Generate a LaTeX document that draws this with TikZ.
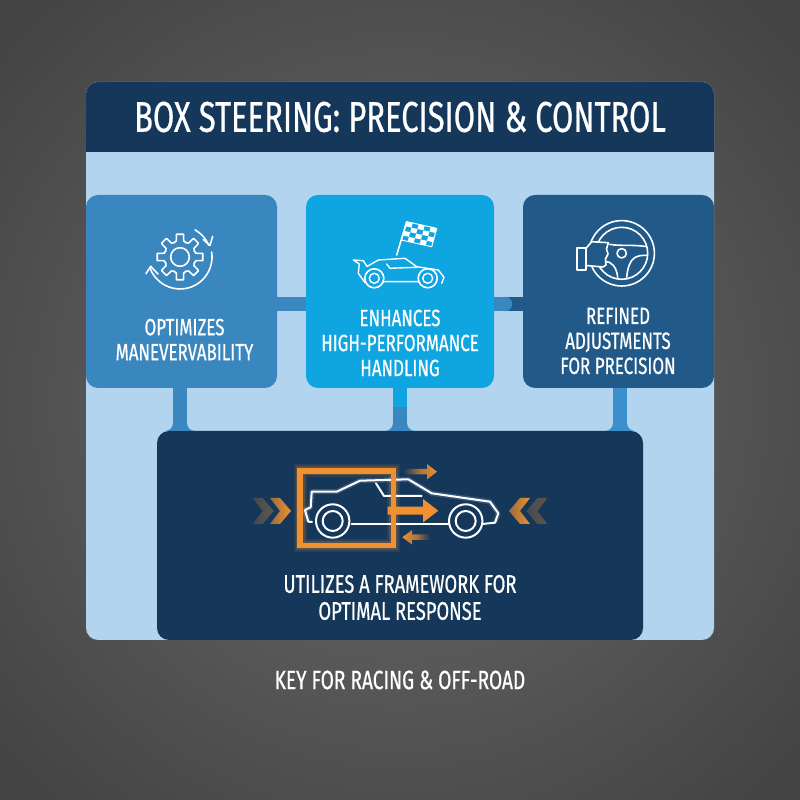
\documentclass[tikz,border=0pt]{standalone}
\usepackage{fontspec}
\setmainfont[FakeStretch=0.72, FakeBold=0.6]{Fira Sans}
\usetikzlibrary{positioning, calc}
\definecolor{GreyIn}{HTML}{6C6C6C}
\definecolor{GreyOut}{HTML}{444444}
\definecolor{PaleSky}{HTML}{B3D4EE}
\definecolor{DeepNavy}{HTML}{14375A}
\definecolor{MidBlue}{HTML}{3A86BF}
\definecolor{BrightBlue}{HTML}{0EA5E0}
\definecolor{SteelBlue}{HTML}{215A89}
\definecolor{LinkBlue}{HTML}{3A8FCC}
\definecolor{RaceOrange}{HTML}{F0902E}
\tikzset{
    cardbox/.style={rounded corners=12pt, minimum height=193pt, inner sep=0pt},
    cardtext/.style={text=white, align=center, font=\fontsize{23.5}{25}\selectfont},
    linkbar/.style={line width=14.5pt},
    iconline/.style={draw=white, line width=1.6pt, line join=round, line cap=round},
    boxline/.style={draw=RaceOrange, line width=5.5pt, line join=miter},
}
\begin{document}
\begin{tikzpicture}[x=1pt, y=1pt]
    \useasboundingbox (0,0) rectangle (800,800);
    \begin{scope}
        \clip (0,0) rectangle (800,800);
        \shade[inner color=GreyIn, outer color=GreyOut] (-130,-130) rectangle (930,930);
    \end{scope}

    \node[fill=PaleSky, rounded corners=12pt, minimum width=628pt, minimum height=558pt,
          inner sep=0pt] (panel) at (400,439) {};
    \fill[DeepNavy] (86,648) [rounded corners=12pt] -- (86,718) -- (714,718)
        [sharp corners] -- (714,648) -- cycle;
    \node[text=white, font=\fontsize{43}{45}\selectfont] (title) at (400,683) {BOX STEERING: PRECISION \& CONTROL};

    \coordinate (optimizeport) at (180,508.5);
    \coordinate (enhanceport) at (400,508.5);
    \coordinate (refineport) at (620,508.5);
    \node[fill=DeepNavy, rounded corners=12pt, minimum width=486pt, minimum height=209pt,
          inner sep=0pt] (frame) at (400,264.5) {};

    \draw[linkbar, MidBlue] ($(optimizeport)+(0,-12.5)$) -- ($(enhanceport)+(0,-12.5)$);
    \draw[linkbar, SteelBlue] ($(refineport)+(0,-12.5)$) -- ($(enhanceport)+(105,-12.5)$) coordinate (midlink);
    \draw[linkbar, MidBlue] (midlink) -- ($(enhanceport)+(0,-12.5)$);
    \draw[linkbar, MidBlue] (optimizeport) -- (optimizeport |- frame.north);
    \draw[linkbar, MidBlue] (enhanceport) -- (enhanceport |- frame.north);
    \draw[linkbar, BrightBlue] (enhanceport) -- (400,393);
    \draw[linkbar, LinkBlue] (refineport) -- (refineport |- frame.north);
    \fill[MidBlue] (midlink) circle (7.2);
    \foreach \px/\pc in {180/MidBlue, 400/MidBlue, 620/LinkBlue} {
        \fill[\pc] (\px+7,369) -- (\px+15,369) arc (270:180:8) -- cycle;
        \fill[\pc] (\px-7,369) -- (\px-15,369) arc (270:360:8) -- cycle;
    }

    \node[cardbox, fill=MidBlue, minimum width=191pt] (optimize) at (181.5,508.5) {};
    \node[cardbox, fill=BrightBlue, minimum width=188pt] (enhance) at (enhanceport) {};
    \node[cardbox, fill=SteelBlue, minimum width=191pt] (refine) at (618.5,508.5) {};

    \node[cardtext] (optimizetext) at (184.5,460.5) {OPTIMIZES\\MANEVERVABILITY};
    \node[cardtext] (enhancetext) at (400,457) {ENHANCES\\HIGH-PERFORMANCE\\HANDLING};
    \node[cardtext] (refinetext) at (618,459) {REFINED\\ADJUSTMENTS\\FOR PRECISION};
    \node[cardtext, font=\fontsize{25.5}{27}\selectfont] (frametext) at (400,202.5) {UTILIZES A FRAMEWORK FOR\\OPTIMAL RESPONSE};
    \node[cardtext, font=\fontsize{26.5}{28}\selectfont] (footer) at (400,120) {KEY FOR RACING \& OFF-ROAD};

    % gear
    \begin{scope}[shift={(180,543)}]
        \foreach \a in {0,45,...,315} {
            \draw[iconline] (\a-22.5:15.5) -- (\a-13:16.5) -- (\a-9:23) -- (\a+9:23) -- (\a+13:16.5) -- (\a+22.5:15.5);
        }
        \draw[iconline] (0,0) circle (9.3);
        \draw[iconline] (9:32) arc (9:-160:32);
        \draw[iconline] (-34,-16.7) -- (-29.3,-9.3) -- (-22,-17);
        \draw[iconline] (61:31) arc (61:22:31);
        \draw[iconline] (23.3,17.3) -- (30,11.7) -- (32.7,20.7);
    \end{scope}

    % race car with flag
    \draw[iconline, line width=1.4pt] (353.3,540) -- (363.3,539.3) -- (367,533.5) -- (378.3,540) -- (405,541.7)
        -- (416.7,533.3) -- (438.3,530) -- (444,522.7) -- (441.7,516.7)
        (420,518.3) -- (381.7,518.3)
        (365,517.3) -- (358.3,526.7) -- (359.3,536) -- (353.3,540);
    \draw[iconline, line width=1.4pt] (386.7,536) -- (390,531.7) -- (416.7,532.7);
    \foreach \cx in {374.3,427.7} {
        \draw[iconline, fill=BrightBlue] (\cx,521.7) circle (9.5);
        \draw[iconline, line width=1.4pt] (\cx,521.7) circle (5);
    }
    \draw[iconline] (396.7,545) -- (406.7,578.3);
    \begin{scope}[cm={6,-1.33,-1.25,-4.6,(406.7,578.3)}]
        \foreach \i in {0,...,4} \foreach \j in {0,...,3} {
            \pgfmathparse{int(mod(\i+\j,2))}
            \ifnum\pgfmathresult=0 \fill[white] (\i,\j) rectangle ++(1,1); \fi
        }
        \draw[iconline, line width=1pt] (0,0) rectangle (5,4);
    \end{scope}

    % wheel with hand
    \begin{scope}[shift={(621.7,546.7)}]
        \draw[iconline] (0,0) circle (32.7);
        \draw[iconline] (0,0) circle (26);
        \draw[iconline] (0,0) circle (4.7);
        \draw[iconline] (-12,9) .. controls (-2,7) and (8,9) .. (25,6.7);
        \draw[iconline] (25,-2) .. controls (15,-2) and (7,-3) .. (5,-24);
        \draw[iconline] (-17,-8) .. controls (-10,-8) and (-5,-14) .. (-4,-24);
    \end{scope}
    \draw[iconline, fill=SteelBlue] (586,551.7) -- (591.7,558.3) -- (608.3,557.3) -- (606.5,551) -- (608,546)
        -- (605.5,541) -- (606,535) -- (603,533) -- (586,534.5) -- cycle;
    \draw[iconline, fill=SteelBlue] (576.7,551.7) rectangle (586,530);

    % big car with sliding box
    \foreach \w/\op in {13/0.12, 9/0.2} {
        \draw[RaceOrange, line width=\w pt, opacity=\op] (300,329) rectangle (393.3,254.3);
    }
    \foreach \w in {5} {
        \draw[white, line width=\w pt, opacity=0.15, line join=round] (308.3,278.3) -- (305,290) -- (310.7,292.7) -- (311.7,308.3) -- (336.7,308.3) -- (360,319.3) -- (408.3,320.7) -- (431.7,306.7) -- (490,298.3) -- (498.3,286.7) -- (495,277.3);
    }
    \draw[iconline, line width=2pt] (312,278) -- (308.3,278.3) -- (305,290) -- (310.7,292.7) -- (311.7,308.3) -- (336.7,308.3)
        -- (360,319.3) -- (408.3,320.7) -- (431.7,306.7) -- (490,298.3) -- (498.3,286.7) -- (495,277.3) -- (482,276);
    \draw[iconline, line width=2pt] (351.7,276) -- (450,276);
    \draw[iconline, line width=2pt] (376,316.7) -- (384,304) -- (421.7,304);
    \foreach \cx in {332.7,465.7} {
        \draw[iconline, line width=2pt, fill=DeepNavy] (\cx,279) circle (16.7);
        \draw[iconline, line width=2pt] (\cx,279) circle (10);
    }
    \draw[boxline] (300,329) rectangle (393.3,254.3);
    \fill[RaceOrange] (387.7,293.3) -- (423,293.3) -- (423,301) -- (438.3,289.3) -- (423,277.5) -- (423,285.3) -- (387.7,285.3) -- cycle;
    \shade[left color=DeepNavy, right color=RaceOrange, middle color=RaceOrange!70!DeepNavy]
        (403,331) -- (427,331) -- (427,336) -- (437,328.3) -- (427,320.5) -- (427,325.5) -- (403,325.5) -- cycle;
    \shade[right color=DeepNavy, left color=RaceOrange, middle color=RaceOrange!70!DeepNavy]
        (430,265.5) -- (412,265.5) -- (412,270) -- (402.3,262.7) -- (412,255.5) -- (412,260) -- (430,260) -- cycle;
    \foreach \sx/\sy/\fade in {252.7/1/35, 270/1/100, 547.3/-1/35, 530/-1/100} {
        \begin{scope}[shift={(\sx,289)}, xscale=\sy]
            \shade[left color=RaceOrange!\fade!DeepNavy!60!DeepNavy, right color=RaceOrange!\fade!DeepNavy]
                (0,13) -- (10,13) -- (21,0) -- (10,-13) -- (0,-13) -- (10,0) -- cycle;
        \end{scope}
    }
\end{tikzpicture}
\end{document}
